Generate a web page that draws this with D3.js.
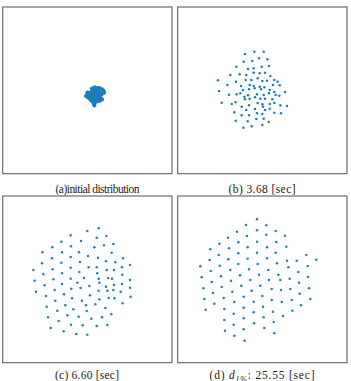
<!DOCTYPE html>
<html>
<head>
<meta charset="utf-8">
<script src="https://cdnjs.cloudflare.com/ajax/libs/d3/7.8.5/d3.min.js"></script>
<style>
  body { margin: 0; background: #fff; }
  text { font-family: "Liberation Serif", "Times New Roman", serif; fill: #222; }
</style>
</head>
<body>
<div id="chart"></div>
<script>
// field coordinates of each robot (same field units in every snapshot)
const initialPts = [
  [270,278],[278,272],[286,270],[294,272],[300,278],
  [266,286],[274,284],[282,280],[290,280],[298,286],[304,284],
  [268,294],[276,292],[284,288],[292,290],[300,294],
  [272,300],[280,298],[288,298],[296,300],
  [278,305],[286,306],[292,304],
  [262,284],[258,288],[264,292],
  [290,264],[298,264],[306,268],[310,272],[312,278],
  [282,312],[283,316],[300,302],[306,298],
  [276,266],[284,262],[262,278],
  [288,292],[280,290],[272,288],[294,296],[286,284],[278,280]
];

const pts368 = [
  [210,162],[238,155],[266,155],
  [206,185],[232,183],[252,175],[277,178],
  [184,200],[219,207],[236,205],[260,200],[282,198],
  [166,225],[194,223],[214,225],[236,218],[254,220],[270,218],[286,228],
  [129,241],[183,245],[212,240],[229,240],[248,235],[262,243],[276,242],[298,240],[308,245],
  [157,255],[198,258],[224,255],[236,258],[254,260],[268,262],[294,255],[314,256],
  [132,273],[204,270],[222,268],[239,265],[258,268],[284,270],[298,276],[330,276],
  [162,284],[185,283],[196,280],[208,290],[219,286],[246,283],[266,285],[282,280],[302,285],[313,287],
  [140,308],[182,307],[210,298],[224,296],[240,292],[256,296],[270,296],[292,298],
  [170,312],[200,320],[222,316],[248,309],[262,313],[284,312],[298,309],[316,316],[336,318],
  [178,337],[214,330],[240,327],[264,320],[270,330],[284,326],
  [200,346],[222,346],[246,340],[262,342],[298,338],[318,340],
  [182,362],[218,364],[244,357],[266,356],[281,366],
  [205,383],[230,379],[262,375]
];

const pts660 = [
  [296,115],[262,123],
  [212,136],[290,143],[319,138],
  [184,155],[243,153],[340,162],[312,166],
  [157,172],[213,169],[283,172],
  [127,187],[186,187],[237,187],[335,188],
  [156,205],[212,201],[264,198],[294,203],[369,205],
  [126,220],[184,218],[240,216],[318,214],[346,217],
  [100,240],[158,238],[212,233],[266,232],[290,232],[390,225],[366,232],
  [130,253],[186,250],[238,246],[292,250],[320,240],[342,240],[367,254],
  [104,272],[160,268],[212,266],[252,264],[296,266],[324,264],[336,266],[390,270],
  [134,286],[186,282],[232,278],[268,288],[298,278],[318,290],[342,285],[366,282],
  [108,305],[164,300],[214,296],[242,294],[296,302],[322,302],[340,300],[390,293],
  [138,318],[192,313],[270,316],[326,324],[362,305],[343,325],
  [166,332],[216,325],[246,332],[298,328],[392,320],
  [140,350],[196,346],[258,346],[286,343],[316,354],[368,340],
  [172,362],[220,358],[260,363],[334,373],
  [144,382],[202,376],[236,380],[274,386],[306,382],
  [176,393],[213,404],[248,406],[290,408],[322,405],
  [152,414],[191,424],[229,432],[262,434]
];

const ptsFinal = [
  [246,88],
  [213,105],[274,106],
  [186,125],[246,121],[302,123],
  [159,143],[216,138],[274,134],[330,137],
  [133,161],[190,157],[246,155],[304,156],
  [106,178],[162,175],[218,172],[276,172],[334,170],
  [131,195],[190,190],[246,188],[302,188],[394,195],
  [104,210],[160,208],[218,206],[276,205],[336,212],[365,212],[424,209],
  [76,229],[134,227],[190,222],[248,222],[306,220],[340,232],[398,228],
  [107,243],[166,240],[222,238],[280,240],[370,246],
  [80,262],[138,259],[195,256],[252,254],[310,254],[344,266],[399,261],
  [110,276],[168,272],[226,270],[282,270],[316,270],[372,278],
  [85,295],[140,291],[199,287],[256,287],[290,297],[346,297],[402,295],
  [114,309],[172,305],[230,302],[318,300],[374,311],
  [88,327],[146,324],[206,320],[262,318],[290,330],[350,330],[406,327],
  [118,341],[178,336],[236,335],[320,336],[378,346],
  [92,359],[148,357],[206,353],[264,350],[352,362],
  [176,371],[236,367],[294,365],[324,378],
  [148,390],[206,385],[266,382],
  [176,404],[237,400],[296,396],
  [150,422],[206,418],[268,414],
  [178,437],[298,430],
  [209,452]
];

const snapshots = [initialPts, pts368, pts660, ptsFinal];
const captions = ["(a)initial distribution", "(b) 3.68 [sec]", "(c) 6.60 [sec]", null];

const W = 351, H = 381;
const svg = d3.select('#chart').append('svg')
  .attr('width', W)
  .attr('height', H);

// panel placement: [left, top, caption x, caption baseline, caption width]
const panels = [
  [0, 0, 97.5, 192.5, 84],
  [175, 0, 262, 192.5, 67],
  [0, 190, 87, 379, 64],
  [175, 190, 262, 379, 105]
];

const field = { x: [0, 525], y: [0, 570] };
const frameX = [8, 516], frameY = [21, 521];

snapshots.forEach((pts, i) => {
  const [ox, oy, cx, cy, tw] = panels[i];
  const x = d3.scaleLinear().domain(field.x).range([ox, ox + 175]);
  const y = d3.scaleLinear().domain(field.y).range([oy, oy + 190]);
  const fy = i < 2 ? frameY : [frameY[0] - 3, frameY[1] - 3];

  const g = svg.append('g');

  g.append('rect')
    .attr('x', x(frameX[0]))
    .attr('y', y(fy[0]))
    .attr('width', x(frameX[1]) - x(frameX[0]))
    .attr('height', y(fy[1]) - y(fy[0]))
    .style('fill', '#fff')
    .style('stroke', '#6e6e6e')
    .style('stroke-width', 1.2);

  g.selectAll('.dot')
    .data(pts)
    .enter()
    .append('circle')
    .attr('class', 'dot')
    .attr('cx', d => x(d[0]))
    .attr('cy', d => y(d[1]))
    .attr('r', i === 0 ? 2.1 : 1.25)
    .style('fill', '#1f7dbb');

  const t = svg.append('text')
    .attr('x', cx)
    .attr('y', cy)
    .attr('textLength', tw)
    .attr('lengthAdjust', 'spacing')
    .style('text-anchor', 'middle')
    .style('font-size', '11.5px');

  if (captions[i]) {
    t.text(captions[i]);
  } else {
    t.append('tspan').text('(d) ');
    t.append('tspan').style('font-style', 'italic').text('d');
    t.append('tspan').attr('dy', 2.5).style('font-size', '8px').style('font-style', 'italic').text('1%');
    t.append('tspan').attr('dy', -2.5).text(': 25.55 [sec]');
  }
});
</script>
</body>
</html>
